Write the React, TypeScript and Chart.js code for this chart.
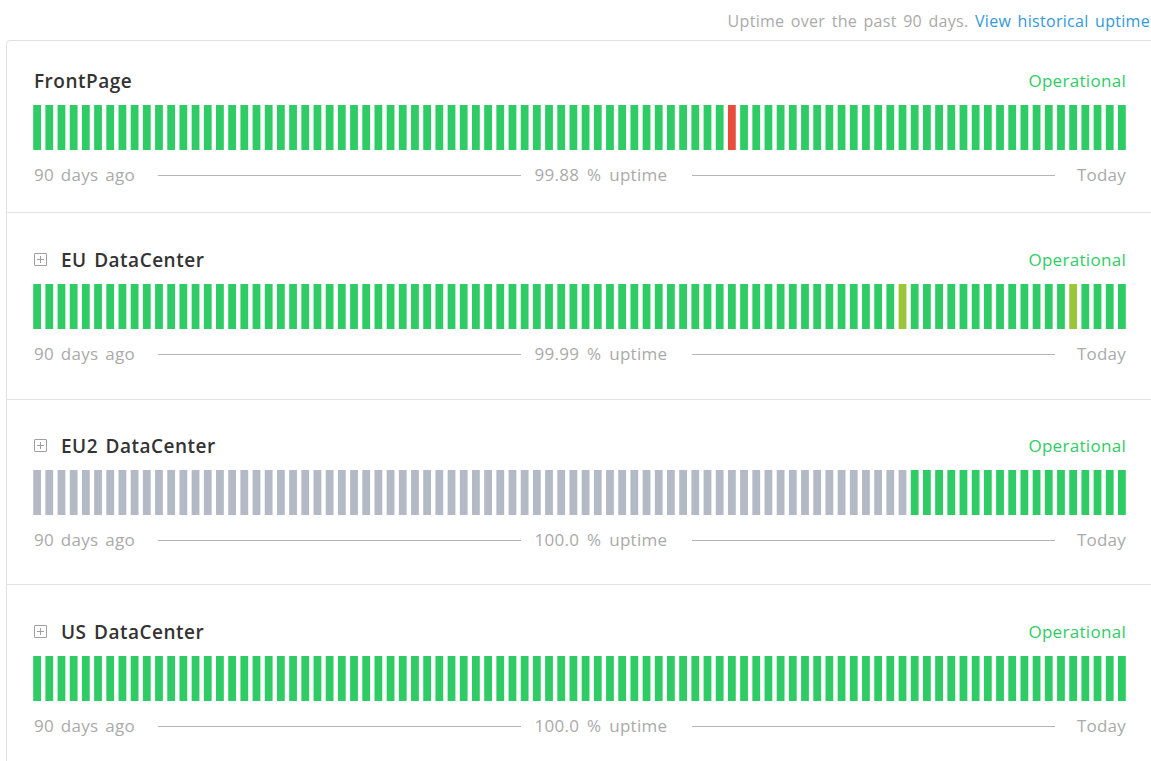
import React, { useEffect, useRef } from "react";
import { Chart, registerables } from "chart.js";

Chart.register(...registerables);

const DAYS = 90;
const dayLabels: string[] = Array.from({ length: DAYS }, (_, i) => `${DAYS - i} days ago`);

const componentNames = ["FrontPage", "EU DataCenter", "EU2 DataCenter", "US DataCenter"];
const uptimeTexts = ["99.88 % uptime", "99.99 % uptime", "100.0 % uptime", "100.0 % uptime"];
const statusTexts = ["Operational", "Operational", "Operational", "Operational"];
const hasGroupIcon = [false, true, true, true];

const frontPageIncidents: Record<number, string> = { 57: "down" };
const euIncidents: Record<number, string> = { 71: "minor", 85: "minor" };
const eu2FirstDayWithData = 72;
const usIncidents: Record<number, string> = {};

const frontPageStatus: string[] = dayLabels.map((_, i) => frontPageIncidents[i] ?? "ok");
const euStatus: string[] = dayLabels.map((_, i) => euIncidents[i] ?? "ok");
const eu2Status: string[] = dayLabels.map((_, i) => (i < eu2FirstDayWithData ? "nodata" : "ok"));
const usStatus: string[] = dayLabels.map((_, i) => usIncidents[i] ?? "ok");

const allStatuses = [frontPageStatus, euStatus, eu2Status, usStatus];

const statusColors: Record<string, string> = {
  ok: "#2fcc66",
  down: "#e74c3c",
  minor: "#9cc63a",
  nodata: "#b3bac5",
};

const FONT = "'Open Sans', Lato, sans-serif";

function UptimeBars({ statuses }: { statuses: string[] }) {
  const ref = useRef<HTMLCanvasElement | null>(null);
  useEffect(() => {
    if (!ref.current) return;
    const chart = new Chart(ref.current, {
      type: "bar",
      data: {
        labels: dayLabels,
        datasets: [
          {
            data: statuses.map(() => 1),
            backgroundColor: statuses.map((s) => statusColors[s]),
            borderWidth: 0,
            barPercentage: 0.64,
            categoryPercentage: 1,
          },
        ],
      },
      options: {
        responsive: false,
        animation: false,
        maintainAspectRatio: false,
        layout: { padding: 0 },
        plugins: { legend: { display: false }, tooltip: { enabled: false } },
        scales: {
          x: { display: false, grid: { display: false } },
          y: { display: false, min: 0, max: 1, grid: { display: false } },
        },
      },
    });
    return () => chart.destroy();
  }, [statuses]);
  return <canvas ref={ref} width={1097} height={45} style={{ width: 1097, height: 45, display: "block" }} />;
}

function PlusIcon({ top }: { top: number }) {
  return (
    <div
      style={{
        position: "absolute",
        left: 34,
        top,
        width: 11,
        height: 11,
        border: "1px solid #a0a0a0",
        borderRadius: 1,
      }}
    >
      <div style={{ position: "absolute", left: 2, top: 5, width: 7, height: 1, background: "#a0a0a0" }} />
      <div style={{ position: "absolute", left: 5, top: 2, width: 1, height: 7, background: "#a0a0a0" }} />
    </div>
  );
}

const smallText: React.CSSProperties = {
  position: "absolute",
  lineHeight: "24px",
  fontSize: 17,
  letterSpacing: 0.3,
  wordSpacing: 2,
  whiteSpace: "nowrap",
};

function Row({ index, barsTop }: { index: number; barsTop: number }) {
  const titleCenter = barsTop - 24;
  const labelCenter = barsTop + 69.5;
  const grey = "#aaaaaa";
  return (
    <>
      {hasGroupIcon[index] && <PlusIcon top={titleCenter - 7} />}
      <div
        style={{
          position: "absolute",
          left: hasGroupIcon[index] ? 61 : 34,
          top: titleCenter - 13,
          height: 26,
          lineHeight: "26px",
          fontSize: 19,
          fontWeight: 600,
          letterSpacing: 0.5,
          wordSpacing: 2,
          color: "#333333",
          whiteSpace: "nowrap",
        }}
      >
        {componentNames[index]}
      </div>
      <div style={{ ...smallText, right: 1151 - 1126, top: titleCenter - 12, color: "#2fcc66" }}>
        {statusTexts[index]}
      </div>
      <div style={{ position: "absolute", left: 31, top: barsTop }}>
        <UptimeBars statuses={allStatuses[index]} />
      </div>
      <div style={{ ...smallText, left: 34, top: labelCenter - 12, color: grey }}>90 days ago</div>
      <div style={{ position: "absolute", left: 158, width: 363, top: labelCenter, height: 1, background: "#b5b5b5" }} />
      <div
        style={{
          ...smallText,
          left: 521,
          width: 160,
          textAlign: "center",
          top: labelCenter - 12,
          color: grey,
          wordSpacing: 3,
        }}
      >
        {uptimeTexts[index]}
      </div>
      <div style={{ position: "absolute", left: 692, width: 363, top: labelCenter, height: 1, background: "#b5b5b5" }} />
      <div style={{ ...smallText, right: 1151 - 1126, top: labelCenter - 12, color: grey, letterSpacing: 0.2 }}>
        Today
      </div>
    </>
  );
}

export default function App() {
  const barsTops = [105, 284, 470, 656];
  const separators = [212, 399, 584];
  return (
    <div
      style={{
        position: "absolute",
        left: 0,
        top: 0,
        width: 1151,
        height: 761,
        overflow: "hidden",
        background: "#ffffff",
        fontFamily: FONT,
      }}
    >
      <div
        style={{
          position: "absolute",
          right: 1,
          top: 9,
          lineHeight: "24px",
          fontSize: 16,
          letterSpacing: 0.3,
          wordSpacing: 2,
          color: "#aaaaaa",
          whiteSpace: "nowrap",
        }}
      >
        Uptime over the past 90 days. <span style={{ color: "#3498db" }}>View historical uptime</span>
      </div>
      <div
        style={{
          position: "absolute",
          left: 6,
          top: 40,
          width: 1170,
          height: 760,
          border: "1px solid #e0e0e0",
          borderRadius: 4,
        }}
      />
      {separators.map((y) => (
        <div key={y} style={{ position: "absolute", left: 6, width: 1170, top: y, height: 1, background: "#e3e3e3" }} />
      ))}
      {barsTops.map((t, i) => (
        <Row key={i} index={i} barsTop={t} />
      ))}
    </div>
  );
}
